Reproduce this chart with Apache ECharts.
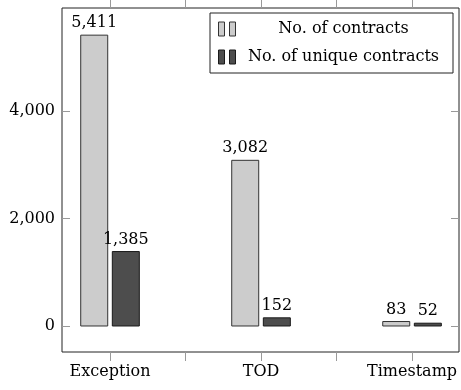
<!DOCTYPE html>
<html>
<head>
<meta charset="utf-8">
<script src="https://cdn.jsdelivr.net/npm/echarts@6/dist/echarts.min.js"></script>
<style>
  html, body { margin: 0; padding: 0; background: #fff; }
  #chart { width: 461px; height: 390px; }
</style>
</head>
<body>
<div id="chart"></div>
<script>
// Vulnerability categories and contract counts
const categories = ['Exception', 'TOD', 'Timestamp'];
const contracts = [5411, 3082, 83];
const uniqueContracts = [1385, 152, 52];
const seriesNames = ['No. of contracts', 'No. of unique contracts'];
const yTicks = [0, 2000, 4000];
const xTicks = [0, 0.5, 1, 1.5, 2];

const FONT = 'DejaVu Serif';
const FONT_SIZE = 16;
const BAR_W = 27;       // px
const BAR_OFFSET = 15.8; // px from category centre
const LIGHT = '#cccccc', LIGHT_EDGE = '#333333';
const DARK = '#4d4d4d', DARK_EDGE = '#1a1a1a';

const fmt = v => Number(v).toLocaleString('en-US');

function barRenderer(sign, fill, stroke) {
  return function (params, api) {
    const i = api.value(0), v = api.value(1);
    const base = api.coord([i, 0]);
    const top = api.coord([i, v]);
    const cx = base[0] + sign * BAR_OFFSET;
    return {
      type: 'group',
      children: [
        {
          type: 'rect',
          shape: { x: cx - BAR_W / 2, y: top[1], width: BAR_W, height: base[1] - top[1] },
          style: { fill: fill, stroke: stroke, lineWidth: 1 }
        },
        {
          type: 'text',
          style: {
            text: fmt(v), x: cx, y: top[1] - 4,
            textAlign: 'center', textVerticalAlign: 'bottom',
            font: FONT_SIZE + 'px "' + FONT + '"', fill: '#000'
          }
        }
      ]
    };
  };
}

const chart = echarts.init(document.getElementById('chart'), null, { renderer: 'canvas' });

const tickStyle = { color: '#999', width: 1 };
const hiddenLine = { show: false, onZero: false };

chart.setOption({
  animation: false,
  grid: {
    left: 62, top: 8, width: 397, height: 344,
    show: true, borderColor: '#222', borderWidth: 1, backgroundColor: 'transparent'
  },
  legend: {
    orient: 'vertical',
    right: 8, top: 13,
    backgroundColor: '#fff',
    borderColor: '#222', borderWidth: 1,
    padding: [8, 7, 8, 8],
    itemGap: 12,
    itemWidth: 18, itemHeight: 14,
    icon: 'path://M0,0h6v14h-6z M11,0h6v14h-6z',
    formatter: name => '{c|' + name + '}',
    textStyle: {
      rich: {
        c: { width: 205, align: 'center', fontFamily: FONT, fontSize: FONT_SIZE, lineHeight: 16, color: '#000' }
      }
    },
    data: [
      { name: seriesNames[0], itemStyle: { color: LIGHT, borderColor: LIGHT_EDGE, borderWidth: 1 } },
      { name: seriesNames[1], itemStyle: { color: DARK, borderColor: DARK_EDGE, borderWidth: 1 } }
    ]
  },
  xAxis: [
    {
      type: 'value', position: 'bottom',
      min: -0.318, max: 2.311,
      axisLine: hiddenLine,
      splitLine: { show: false },
      axisTick: { show: true, length: 9, customValues: xTicks, lineStyle: tickStyle },
      axisLabel: {
        customValues: [0, 1, 2],
        formatter: v => categories[Math.round(v)],
        fontFamily: FONT, fontSize: FONT_SIZE, color: '#000', margin: 12
      }
    },
    {
      type: 'value', position: 'top',
      min: -0.318, max: 2.311,
      axisLine: hiddenLine,
      splitLine: { show: false },
      axisTick: { show: true, length: 9, customValues: xTicks, lineStyle: tickStyle },
      axisLabel: { show: false }
    }
  ],
  yAxis: [
    {
      type: 'value', position: 'left',
      min: -484, max: 5916,
      axisLine: hiddenLine,
      splitLine: { show: false },
      axisTick: { show: true, inside: true, length: 8, customValues: yTicks, lineStyle: tickStyle },
      axisLabel: {
        customValues: yTicks,
        formatter: v => fmt(v),
        fontFamily: FONT, fontSize: FONT_SIZE, color: '#000', margin: 7
      }
    },
    {
      type: 'value', position: 'right',
      min: -484, max: 5916,
      axisLine: hiddenLine,
      splitLine: { show: false },
      axisTick: { show: true, inside: true, length: 8, customValues: yTicks, lineStyle: tickStyle },
      axisLabel: { show: false }
    }
  ],
  series: [
    {
      name: seriesNames[0], type: 'custom', clip: false,
      itemStyle: { color: LIGHT },
      renderItem: barRenderer(-1, LIGHT, LIGHT_EDGE),
      data: contracts.map((v, i) => [i, v])
    },
    {
      name: seriesNames[1], type: 'custom', clip: false,
      itemStyle: { color: DARK },
      renderItem: barRenderer(1, DARK, DARK_EDGE),
      data: uniqueContracts.map((v, i) => [i, v])
    }
  ]
});
</script>
</body>
</html>
